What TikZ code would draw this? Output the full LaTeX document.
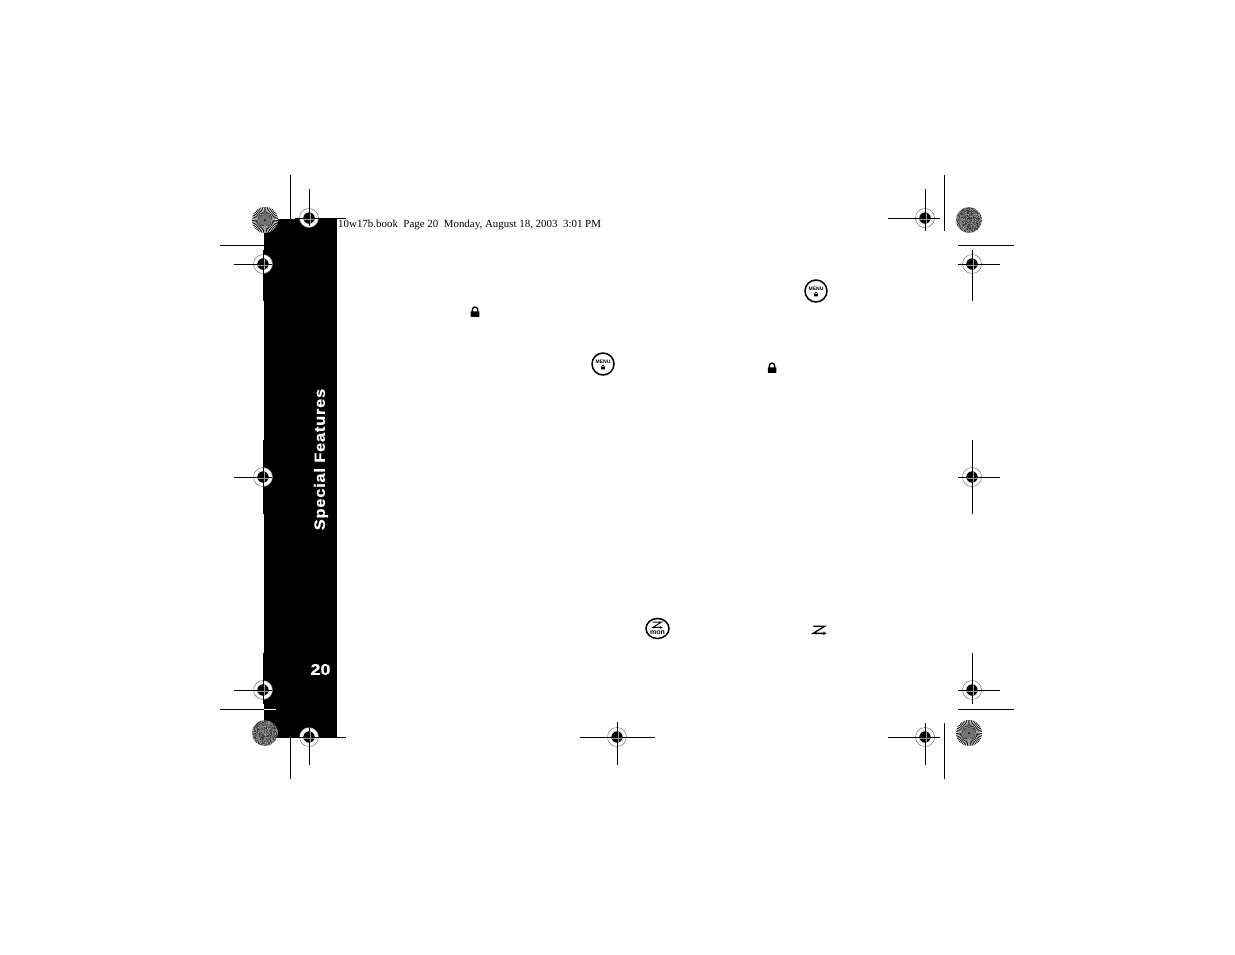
\documentclass[tikz,border=0pt]{standalone}
\usepackage{fontspec}
\setmainfont{Liberation Serif}
\setsansfont{Liberation Sans}
\tikzset{
  x=1pt,y=-1pt,
  hair/.style={line width=1pt,black},
  booktext/.style={inner sep=0pt,anchor=west,font=\fontsize{10.93}{13}\selectfont},
  tabtext/.style={inner sep=0pt,text=white,font=\sffamily\bfseries},
  ringbtn/.style={draw=black,line width=1.5pt,fill=white},
}
% registration mark: centre x,y; horizontal extent; vertical extent
\newcommand{\regmark}[6]{%
  \fill[white] (#1,#2) circle[radius=9.5];
  \draw[black!55,line width=.5pt] (#1,#2) circle[radius=9.5];
  \draw[hair] (#3,#2) -- (#4,#2);
  \draw[hair] (#1,#5) -- (#1,#6);
  \fill[black] (#1,#2) circle[radius=5.7];
  \draw[black!40,line width=.4pt] (#1-5.7,#2+.75) -- (#1+5.7,#2+.75) (#1+.75,#2-5.7) -- (#1+.75,#2+5.7);
}
\newcommand{\burst}[2]{%
  \fill[white] (#1,#2) circle[radius=13];
  \foreach \a in {0,8,...,352}
    \fill[black] (#1,#2) -- ++(\a:13) -- ++(\a+90:.85) -- cycle;
  \fill[black!55] (#1,#2) circle[radius=5];
  \fill[black] (#1,#2) circle[radius=1];
}
\newcommand{\grayburst}[2]{%
  \begin{scope}
  \clip (#1,#2) circle[radius=13];
  \foreach \i in {-13,...,12}
    \foreach \j in {-13,...,12} {
      \pgfmathsetmacro\g{int(38+rnd*44)}
      \fill[black!\g] (#1+\i,#2+\j) rectangle ++(1,1);
    }
  \end{scope}
}
\newcommand{\padlock}[3]{% x, y, scale
  \draw[black,line width=#3*1.2pt] (#1-#3*2.3,#2) -- (#1-#3*2.3,#2-#3*2) arc[start angle=180,end angle=360,radius=#3*2.3] -- (#1+#3*2.3,#2);
  \fill[black,rounded corners=.4pt] (#1-#3*3.7,#2-#3*.6) rectangle (#1+#3*3.7,#2+#3*4.2);
}
\newcommand{\menubutton}[2]{%
  \draw[ringbtn] (#1,#2) circle[radius=11];
  \node[inner sep=0pt,font=\sffamily\bfseries\fontsize{5}{5}\selectfont] at (#1,#2-2.5) {MENU};
  \padlock{#1}{#2+3.3}{.52}
}
\newcommand{\zigzag}[3]{% x,y,scale
  \draw[black,line width=#3*1.4pt] (#1-#3*6,#2-#3*4) -- (#1+#3*6,#2-#3*4) -- (#1-#3*6,#2+#3*3.5) -- (#1+#3*5,#2+#3*3.5);
  \fill[black] (#1+#3*8,#2+#3*3.5) -- (#1+#3*4.5,#2+#3*1.7) -- (#1+#3*4.5,#2+#3*5.3) -- cycle;
}
\begin{document}
\begin{tikzpicture}
\pgfmathsetseed{4217}
\useasboundingbox (0,0) rectangle (1235,954);
\fill[white] (0,0) rectangle (1235,954);
% black tab
\fill[black] (264,219) rectangle (337,738);
% crop lines
\draw[hair] (290,175) -- (290,219);
\draw[hair] (220,245) -- (264,245);
\draw[hair] (944,175) -- (944,231);
\draw[hair] (958,245) -- (1014,245);
\draw[hair] (220,709) -- (264,709);
\draw[white,line width=1pt] (264,709) -- (276,709);
\draw[hair] (958,709) -- (1014,709);
\draw[hair] (290,738) -- (290,779);
\draw[hair] (944,723) -- (944,779);
% starbursts
\burst{265}{220}
\grayburst{969}{220}
\grayburst{265}{733}
\burst{969}{733}
% registration marks
\regmark{309}{218}{295}{346}{189}{226}
\regmark{263}{264}{234}{272}{250}{301}
\regmark{263}{477}{234}{272}{440}{514}
\regmark{263}{690}{234}{272}{653}{704}
\regmark{309}{737}{295}{346}{727}{765}
\regmark{617}{737}{580}{655}{722}{765}
\regmark{925}{737}{888}{940}{723}{765}
\regmark{925}{218}{888}{940}{189}{231}
\regmark{972}{264}{958}{1000}{250}{301}
\regmark{972}{477}{958}{1000}{440}{514}
\regmark{972}{690}{958}{1000}{653}{704}
% header and tab text
\node[booktext] (header) at (338,225) {10w17b.book\ \ Page 20\ \ Monday, August 18, 2003\ \ 3:01 PM};
\node[tabtext,rotate=90,font=\sffamily\bfseries\fontsize{15}{16}\selectfont\addfontfeatures{LetterSpace=5,FakeBold=.9}] (tabtitle) at (321,459.5) {\scalebox{1.09}[1]{Special Features}};
\node[tabtext,font=\sffamily\bfseries\fontsize{15.5}{17}\selectfont\addfontfeatures{FakeBold=.6}] (pagenum) at (320.5,669.5) {\scalebox{1.15}[1]{20}};
% icons
\menubutton{816}{291}
\menubutton{603}{364}
\padlock{475}{312}{1.15}
\padlock{772}{368}{1.15}
\draw[ringbtn] (657.5,628.5) ellipse[x radius=11.5,y radius=10];
\zigzag{657}{625}{.7}
\node[inner sep=0pt,font=\sffamily\bfseries\fontsize{7}{7}\selectfont] (mon) at (657.5,632.5) {mon};
\zigzag{819}{630}{.95}
\end{tikzpicture}
\end{document}
